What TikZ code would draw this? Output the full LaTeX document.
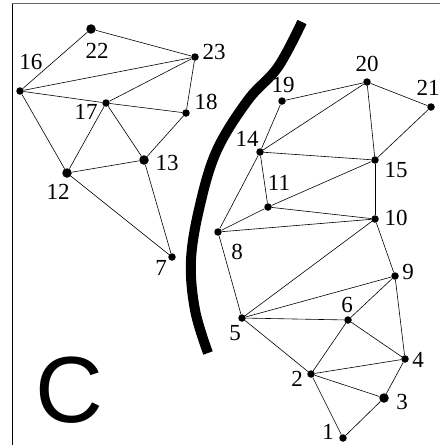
\documentclass[tikz,border=0pt]{standalone}
\usepackage{fontspec}
\setmainfont{Liberation Serif}
\newfontfamily\bigsans{Liberation Sans}
\usetikzlibrary{arrows}

\begin{document}
\begin{tikzpicture}[x=1pt,y=-1pt,
    vertex/.style={circle, fill, inner sep=0pt, minimum size=7.5pt},
    bigvertex/.style={vertex, minimum size=9.5pt},
    num/.style={inner sep=0pt, font=\fontsize{23}{23}\selectfont},
    edge/.style={line width=0.6pt}]
      \useasboundingbox (0,0) rectangle (440,445);

      % frame
      \draw[line width=1.3pt, black!60] (12,3.5) -- (440,3.5);
      \draw[line width=0.8pt] (12,3.5) -- (12,445);

      % vertices: name / x / y / label x / label y
      \foreach \n/\x/\y/\lx/\ly in {
        16/20/91/31/62, 17/106/103/86/112, 18/186/113/206/102,
        23/195/57/214/52, 7/172/257/161/268,
        19/282/101/283/85, 20/367/82/367/64, 21/431/107/428/88,
        14/260/152/247/139, 15/375/160/396/170, 11/268/207/279/183,
        10/375/219/396/218, 8/218/232/237/252, 9/395/276/408/272,
        6/348/320/347/305, 5/242/318/235/333, 4/405/359/418/360,
        2/311/374/297/379, 1/343/438/328/432}
      {
        \node[vertex] (\n) at (\x,\y) {};
        \node[num] (l\n) at (\lx,\ly) {\n};
      }
      \foreach \n/\x/\y/\lx/\ly in {
        22/91/29/97/51, 12/67/173/58/192, 13/144/160/167/163,
        3/384/398/402/402}
      {
        \node[bigvertex] (\n) at (\x,\y) {};
        \node[num] (l\n) at (\lx,\ly) {\n};
      }

      % edges
      \foreach \a/\b in {16/22, 22/23, 16/23, 16/17, 17/23, 17/18, 18/23,
        16/12, 12/17, 17/13, 13/18, 12/13, 12/7, 13/7}
        \draw[edge] (\a) -- (\b);
      \foreach \a/\b in {19/20, 19/14, 14/20, 20/21, 20/15, 21/15, 14/15,
        14/11, 11/15, 11/10, 15/10, 14/8, 8/11, 8/10, 8/5, 5/10, 5/9,
        10/9, 5/6, 6/9, 6/4, 9/4, 5/2, 2/6, 2/4, 2/3, 3/4, 2/1, 1/3}
        \draw[edge] (\a) -- (\b);

      % the cut
      \draw[line width=10pt] plot[smooth, tension=0.6] coordinates {
        (302,22) (278,67) (248,100) (217,150) (200,205) (191,260)
        (195,310) (208,353)};

      \node[font=\bigsans\fontsize{94}{94}\selectfont, anchor=base,
        inner sep=0pt] (cut) at (69,422) {C};
    \end{tikzpicture}
\end{document}
